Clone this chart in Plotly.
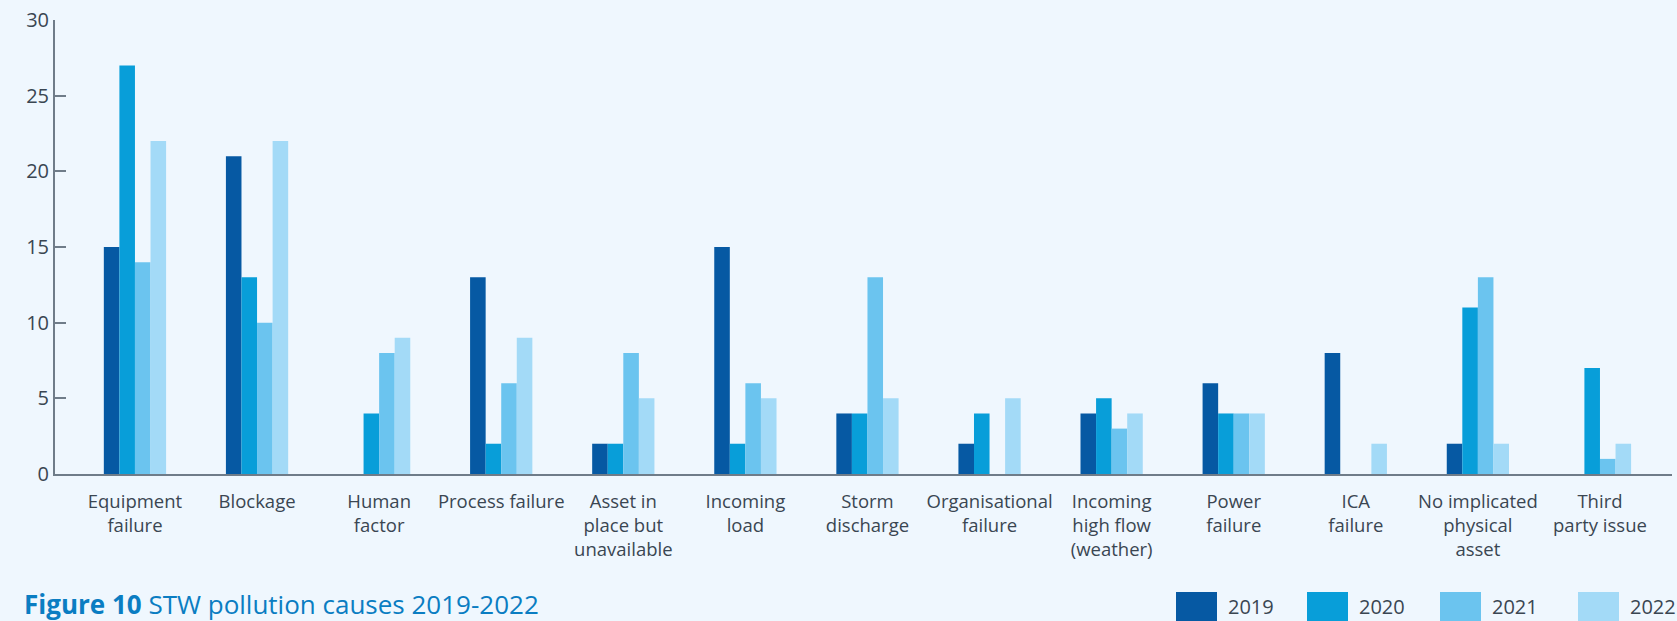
import plotly.graph_objects as go

# STW pollution incidents by cause, 2019-2022
categories = [
    "Equipment<br>failure", "Blockage", "Human<br>factor", "Process failure",
    "Asset in<br>place but<br>unavailable", "Incoming<br>load", "Storm<br>discharge",
    "Organisational<br>failure", "Incoming<br>high flow<br>(weather)", "Power<br>failure",
    "ICA<br>failure", "No implicated<br>physical<br>asset", "Third<br>party issue",
]
years = ["2019", "2020", "2021", "2022"]
values_2019 = [15, 21, 0, 13, 2, 15, 4, 2, 4, 6, 8, 2, 0]
values_2020 = [27, 13, 4, 2, 2, 2, 4, 4, 5, 4, 0, 11, 7]
values_2021 = [14, 10, 8, 6, 8, 6, 13, 0, 3, 4, 0, 13, 1]
values_2022 = [22, 22, 9, 9, 5, 5, 5, 5, 4, 4, 2, 2, 2]
series = [values_2019, values_2020, values_2021, values_2022]
colors = ["#0659a3", "#089ed9", "#6bc4ef", "#a3daf7"]
y_ticks = [0, 5, 10, 15, 20, 25, 30]

W, H = 1677, 621
ML, MR, MT, MB = 55, 5, 20, 147
BG = "#eff7fe"
AXIS = "#6f7c89"
TEXT = "#3a4652"
FONT = "Open Sans"

fig = go.Figure()
for name, vals, col in zip(years, series, colors):
    fig.add_trace(go.Bar(x=categories, y=vals, name=name, marker_color=col,
                         marker_line_width=0, showlegend=False))

def px_x(p):
    return (p - ML) / (W - ML - MR)

def px_y(p):
    return (H - MB - p) / (H - MT - MB)

# legend: large swatches along the bottom edge
legend_x = [1176, 1307, 1440, 1578]
shapes = []
annotations = []
for lx, name, col in zip(legend_x, years, colors):
    shapes.append(dict(type="rect", xref="paper", yref="paper",
                       x0=px_x(lx), x1=px_x(lx + 41), y0=px_y(592), y1=px_y(621),
                       fillcolor=col, line_width=0))
    annotations.append(dict(xref="paper", yref="paper", x=px_x(lx + 50), y=px_y(606),
                            xanchor="left", yanchor="middle", showarrow=False,
                            text=name, font=dict(family=FONT, size=20, color=TEXT)))

annotations.append(dict(xref="paper", yref="paper", x=px_x(22), y=px_y(604),
                        xanchor="left", yanchor="middle", showarrow=False,
                        text="<b>Figure 10</b> STW pollution causes 2019-2022",
                        font=dict(family=FONT, size=26, color="#0a7dc2")))

fig.update_layout(
    width=W, height=H,
    margin=dict(l=ML, r=MR, t=MT, b=MB),
    paper_bgcolor=BG, plot_bgcolor=BG,
    barmode="group", bargap=0.49, bargroupgap=0,
    shapes=shapes, annotations=annotations,
    font=dict(family=FONT, color=TEXT),
)
fig.update_xaxes(
    type="category", categoryorder="array", categoryarray=categories,
    range=[-0.655, 12.59],
    showline=True, linecolor=AXIS, linewidth=2, ticks="", showgrid=False,
    tickfont=dict(family=FONT, size=18.5, color=TEXT), tickangle=0,
    ticklabelstandoff=10,
)
fig.update_yaxes(
    range=[0, 30], tickvals=y_ticks, showgrid=False, zeroline=False,
    showline=True, linecolor=AXIS, linewidth=2,
    ticks="inside", ticklen=11, tickwidth=2, tickcolor=AXIS,
    tickfont=dict(family=FONT, size=20, color=TEXT),
)

fig.write_html("out.html")
